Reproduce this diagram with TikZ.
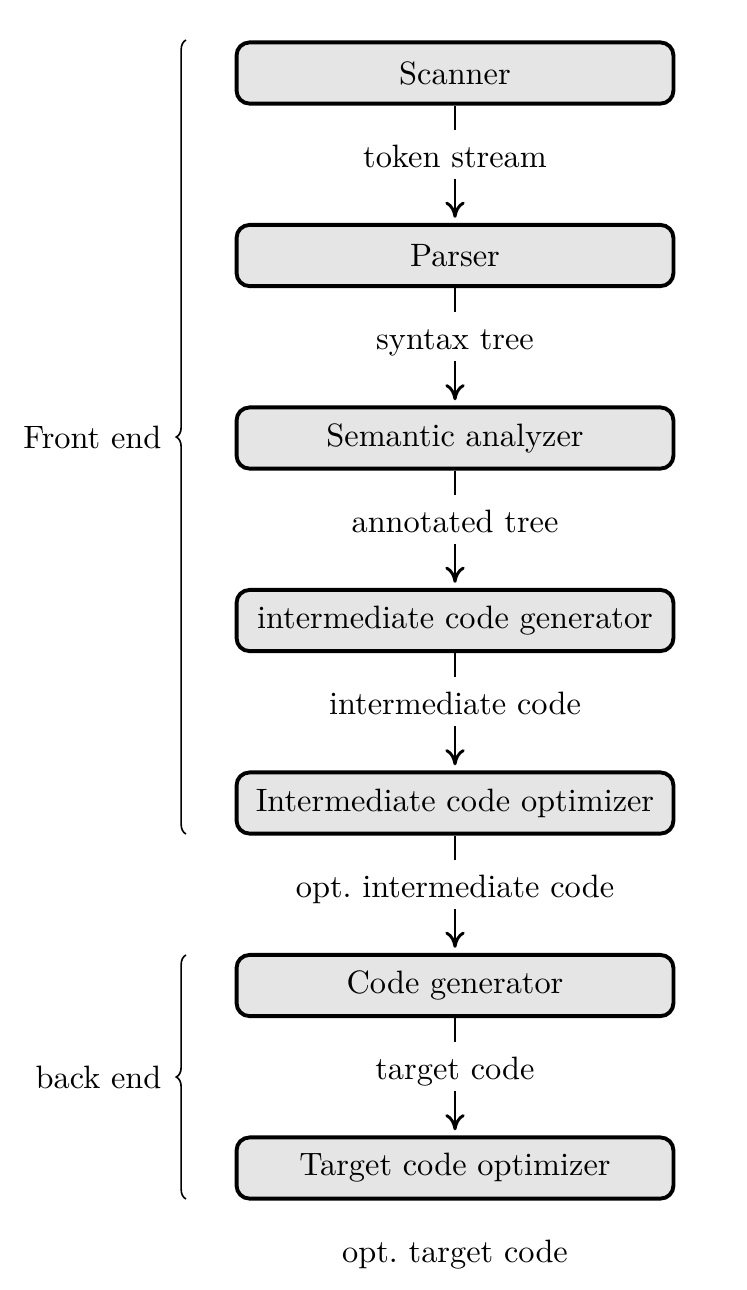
\documentclass[tikz,border=0pt]{standalone}
\usetikzlibrary{decorations.pathreplacing,arrows.meta}
\begin{document}
\begin{tikzpicture}[x=0.309pt,y=-0.309pt,
  stage/.style={draw,very thick,fill=black!10,rounded corners=4pt,
    minimum width=135pt,minimum height=18.9pt,inner sep=0pt},
  lbl/.style={inner sep=1.4pt,text height=7pt,text depth=2pt},
  conn/.style={line width=0.9pt},
  tipped/.style={conn,-{Computer Modern Rightarrow[length=5pt,width=6pt]},shorten >=1.6pt},
  bracestyle/.style={decorate,decoration={brace,amplitude=3pt},line width=0.5pt}]
\useasboundingbox (0,0) rectangle (746,1290);
\node[stage] (b1) at (455,73) {Scanner};
\node[stage] (b2) at (455,255.5) {Parser};
\node[stage] (b3) at (455,438) {Semantic analyzer};
\node[stage] (b4) at (455,620.5) {intermediate code generator};
\node[stage] (b5) at (455,803) {Intermediate code optimizer};
\node[stage] (b6) at (455,985.5) {Code generator};
\node[stage] (b7) at (455,1168) {Target code optimizer};
\node[lbl] (l1) at (455,159) {token stream};
\node[lbl] (l2) at (455,341.5) {syntax tree};
\node[lbl] (l3) at (455,524) {annotated tree};
\node[lbl] (l4) at (455,706.5) {intermediate code};
\node[lbl] (l5) at (455,889) {opt.\ intermediate code};
\node[lbl] (l6) at (455,1071.5) {target code};
\node[lbl] (l7) at (455,1254) {opt.\ target code};
\foreach \a/\l/\b in {b1/l1/b2,b2/l2/b3,b3/l3/b4,b4/l4/b5,b5/l5/b6,b6/l6/b7}{
  \draw[conn,shorten >=3pt] (\a.south) -- (\l.north);
  \draw[tipped] (\l.south) -- (\b.north);
}
\coordinate (fb) at (186,834);
\coordinate (ft) at (186,40);
\coordinate (bb) at (186,1199);
\coordinate (bt) at (186,955);
\draw[bracestyle] (fb) -- (ft) node[midway,left=4pt] (fe) {Front end};
\draw[bracestyle] (bb) -- (bt) node[midway,left=4pt] (be) {back end};
\end{tikzpicture}
\end{document}
